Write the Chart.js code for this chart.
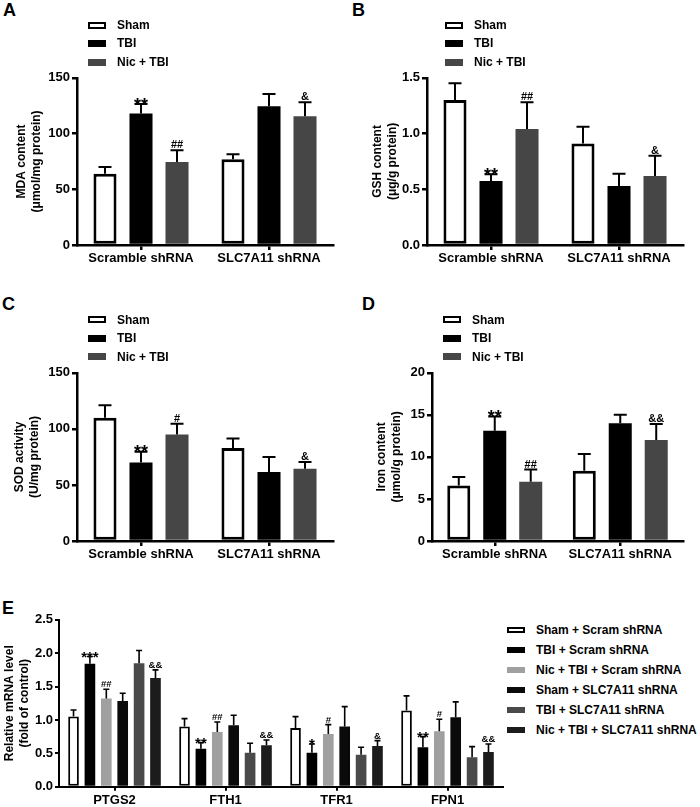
<!DOCTYPE html>
<html>
<head>
<meta charset="utf-8">
<script src="https://cdn.jsdelivr.net/npm/chart.js@4.4.0/dist/chart.umd.min.js"></script>
<style>
  body { margin: 0; background: #fff; width: 700px; height: 807px; position: relative; overflow: hidden;
         font-family: 'Liberation Sans', Arial, sans-serif; color: #000; }
  canvas { position: absolute; }
  .letter { position: absolute; font-size: 18px; font-weight: bold; line-height: 18px; }
  .legend { position: absolute; font-size: 12px; font-weight: bold; }
  .legend div { position: relative; padding-left: 29px; white-space: nowrap; }
  .legend span { position: absolute; left: 0; width: 18px; box-sizing: border-box; }
</style>
</head>
<body>
<div class="letter" style="left:3px;top:1px">A</div>
<div class="letter" style="left:352px;top:1px">B</div>
<div class="letter" style="left:2px;top:295px">C</div>
<div class="letter" style="left:362px;top:295px">D</div>
<div class="letter" style="left:2px;top:599px">E</div>

<canvas id="chartA" width="345" height="202" style="left:0;top:68px"></canvas>
<canvas id="chartB" width="350" height="202" style="left:350px;top:68px"></canvas>
<canvas id="chartC" width="345" height="202" style="left:0;top:363px"></canvas>
<canvas id="chartD" width="350" height="202" style="left:350px;top:363px"></canvas>
<canvas id="chartE" width="505" height="197" style="left:0;top:610px"></canvas>

<script>
const FONT = "'Liberation Sans', Arial, sans-serif";

// panels A-D
const groupLabels = ['Scramble shRNA', 'SLC7A11 shRNA'];
const groupSeries = ['Sham', 'TBI', 'Nic + TBI'];
const groupFills = ['#fff', '#000', '#464646'];

// rows = series (Sham, TBI, Nic + TBI), columns = groups
const mdaMean = [[64, 77], [118, 124.5], [74.5, 115.5]];
const mdaSd = [[6, 4.5], [8.5, 11], [10.5, 12.5]];
const mdaMarks = [['', ''], ['**', ''], ['##', '&']];
const mdaTicks = [0, 50, 100, 150];

const gshMean = [[1.30, 0.91], [0.575, 0.53], [1.04, 0.62]];
const gshSd = [[0.15, 0.15], [0.06, 0.11], [0.24, 0.18]];
const gshMarks = [['', ''], ['**', ''], ['##', '&']];
const gshTicks = [0, 0.5, 1.0, 1.5];

const sodMean = [[110, 83], [70, 61.5], [95, 64.5]];
const sodSd = [[11, 8.5], [9.5, 13.5], [9.5, 6]];
const sodMarks = [['', ''], ['**', ''], ['#', '&']];
const sodTicks = [0, 50, 100, 150];

const ironMean = [[6.6, 8.35], [13.1, 14.0], [7.05, 12.0]];
const ironSd = [[1.0, 2.0], [1.7, 1.0], [1.45, 1.9]];
const ironMarks = [['', ''], ['**', ''], ['##', '&&']];
const ironTicks = [0, 5, 10, 15, 20];

// panel E
const geneLabels = ['PTGS2', 'FTH1', 'TFR1', 'FPN1'];
const mrnaSeries = ['Sham + Scram shRNA', 'TBI + Scram shRNA', 'Nic + TBI + Scram shRNA',
                    'Sham + SLC7A11 shRNA', 'TBI + SLC7A11 shRNA', 'Nic + TBI + SLC7A11 shRNA'];
const mrnaFills = ['#fff', '#000', '#a0a0a0', '#0a0a0a', '#4a4a4a', '#1c1c1c'];
const mrnaMean = [
  [1.05, 0.90, 0.88, 1.14],
  [1.84, 0.57, 0.51, 0.59],
  [1.32, 0.82, 0.79, 0.83],
  [1.285, 0.92, 0.90, 1.04],
  [1.85, 0.51, 0.48, 0.44],
  [1.63, 0.62, 0.61, 0.52]
];
const mrnaSd = [
  [0.10, 0.12, 0.17, 0.22],
  [0.11, 0.09, 0.13, 0.16],
  [0.14, 0.15, 0.14, 0.18],
  [0.115, 0.15, 0.30, 0.23],
  [0.19, 0.14, 0.11, 0.16],
  [0.12, 0.08, 0.08, 0.12]
];
const mrnaMarks = [
  ['', '', '', ''],
  ['***', '**', '*', '**'],
  ['##', '##', '#', '#'],
  ['', '', '', ''],
  ['', '', '', ''],
  ['&&', '&&', '&', '&&']
];
const mrnaTicks = [0, 0.5, 1.0, 1.5, 2.0, 2.5];

// upward SD bars plus significance marks
const errorBars = {
  id: 'errorBars',
  afterDatasetsDraw(chart, args, opts) {
    const ctx = chart.ctx;
    const y = chart.scales.y;
    ctx.save();
    ctx.strokeStyle = '#000';
    ctx.fillStyle = '#000';
    ctx.lineWidth = opts.lineWidth;
    chart.data.datasets.forEach((ds, i) => {
      chart.getDatasetMeta(i).data.forEach((bar, j) => {
        const top = y.getPixelForValue(ds.data[j] + ds.sd[j]);
        const half = opts.cap / 2;
        ctx.beginPath();
        ctx.moveTo(bar.x, bar.y);
        ctx.lineTo(bar.x, top);
        ctx.moveTo(bar.x - half, top);
        ctx.lineTo(bar.x + half, top);
        ctx.stroke();
        const m = ds.marks[j];
        if (m) {
          const star = m[0] === '*';
          const size = star ? opts.starSize : opts.markSize;
          ctx.font = 'bold ' + size + 'px ' + FONT;
          ctx.textAlign = 'center';
          ctx.textBaseline = 'alphabetic';
          ctx.fillText(m, bar.x, star ? top - 1 + 0.42 * size : top - 2);
        }
      });
    });
    ctx.restore();
  }
};

function bold(size) { return { family: FONT, size: size, weight: 'bold' }; }

function barChart(id, c) {
  const datasets = c.names.map((name, i) => ({
    label: name,
    data: c.mean[i],
    sd: c.sd[i],
    marks: c.marks[i],
    backgroundColor: c.fills[i],
    borderColor: '#000',
    borderWidth: c.fills[i] === '#fff' ? c.outline : 0,
    borderSkipped: false,
    categoryPercentage: c.catPct,
    barPercentage: c.barPct
  }));
  const tickGrid = { display: true, drawOnChartArea: false, drawTicks: true, tickLength: c.tick,
                     color: '#000', lineWidth: c.axisW, offset: false };
  return new Chart(document.getElementById(id), {
    type: 'bar',
    data: { labels: c.labels, datasets: datasets },
    options: {
      responsive: false,
      animation: false,
      devicePixelRatio: 1,
      layout: { padding: { top: c.top, right: c.right, left: 0, bottom: 0 } },
      plugins: {
        legend: { display: false },
        tooltip: { enabled: false },
        errorBars: { lineWidth: c.errW, cap: c.cap, starSize: c.starSize, markSize: c.markSize }
      },
      scales: {
        x: {
          grid: tickGrid,
          border: { display: true, color: '#000', width: c.axisW, z: 1 },
          ticks: { color: '#000', font: bold(c.xFont), padding: c.xPad, maxRotation: 0, autoSkip: false },
          afterFit: s => { s.height = c.xH; }
        },
        y: {
          min: c.ticks[0],
          max: c.ticks[c.ticks.length - 1],
          afterBuildTicks: s => { s.ticks = c.ticks.map(v => ({ value: v })); },
          grid: tickGrid,
          border: { display: true, color: '#000', width: c.axisW, z: 1 },
          ticks: { color: '#000', font: bold(c.yFont), padding: 2, callback: v => v.toFixed(c.dec) },
          title: { display: true, text: c.title, color: '#000',
                   font: { family: FONT, size: 12, weight: 'bold', lineHeight: 1.25 },
                   padding: { top: c.titlePad, bottom: 0 } },
          afterFit: s => { s.width = c.yW; }
        }
      }
    },
    plugins: [errorBars]
  });
}

function legend(left, top, names, fills, rowH, boxH) {
  const box = document.createElement('div');
  box.className = 'legend';
  box.style.left = left + 'px';
  box.style.top = top + 'px';
  names.forEach((n, i) => {
    const row = document.createElement('div');
    row.style.height = rowH + 'px';
    row.style.lineHeight = rowH + 'px';
    const sw = document.createElement('span');
    sw.style.top = ((rowH - boxH) / 2) + 'px';
    sw.style.height = boxH + 'px';
    sw.style.background = fills[i];
    if (fills[i] === '#fff') sw.style.border = '2px solid #000';
    row.appendChild(sw);
    row.appendChild(document.createTextNode(n));
    box.appendChild(row);
  });
  document.body.appendChild(box);
}

const small = { labels: groupLabels, names: groupSeries, fills: groupFills, catPct: 0.844, barPct: 0.64,
                outline: 3, tick: 5, axisW: 2.5, errW: 2, cap: 13, starSize: 18, markSize: 11,
                xFont: 13, yFont: 13, xPad: 1, top: 9, right: 12, yW: 77, xH: 25 };

barChart('chartA', Object.assign({}, small, { mean: mdaMean, sd: mdaSd, marks: mdaMarks, ticks: mdaTicks, dec: 0,
  title: ['MDA content', '(μmol/mg protein)'], titlePad: 14 }));
barChart('chartB', Object.assign({}, small, { mean: gshMean, sd: gshSd, marks: gshMarks, ticks: gshTicks, dec: 1,
  title: ['GSH content', '(μg/g protein)'], titlePad: 20.5, right: 17 }));
barChart('chartC', Object.assign({}, small, { mean: sodMean, sd: sodSd, marks: sodMarks, ticks: sodTicks, dec: 0,
  title: ['SOD activity', '(U/mg protein)'], titlePad: 12.5, xH: 24 }));
barChart('chartD', Object.assign({}, small, { mean: ironMean, sd: ironSd, marks: ironMarks, ticks: ironTicks, dec: 0,
  title: ['Iron content', '(μmol/g protein)'], titlePad: 24, right: 17, yW: 82, xH: 24, catPct: 0.86 }));
barChart('chartE', { labels: geneLabels, names: mrnaSeries, fills: mrnaFills, mean: mrnaMean, sd: mrnaSd,
  marks: mrnaMarks, ticks: mrnaTicks, dec: 1, catPct: 0.886, barPct: 0.65, outline: 2, tick: 4, axisW: 2,
  errW: 1.6, cap: 6, starSize: 15, markSize: 9.5, xFont: 13, yFont: 13, xPad: 1.5, top: 9.3, right: 2,
  yW: 59, xH: 20.3, title: ['Relative mRNA level', '(fold of control)'], titlePad: 2.5 });

legend(88, 15.75, groupSeries, groupFills, 18.5, 7);
legend(445, 15.75, groupSeries, groupFills, 18.5, 7);
legend(88, 310.5, groupSeries, groupFills, 18.5, 7);
legend(443, 310.5, groupSeries, groupFills, 18.5, 7);
legend(507, 620, mrnaSeries, mrnaFills, 20, 6);
</script>
</body>
</html>
